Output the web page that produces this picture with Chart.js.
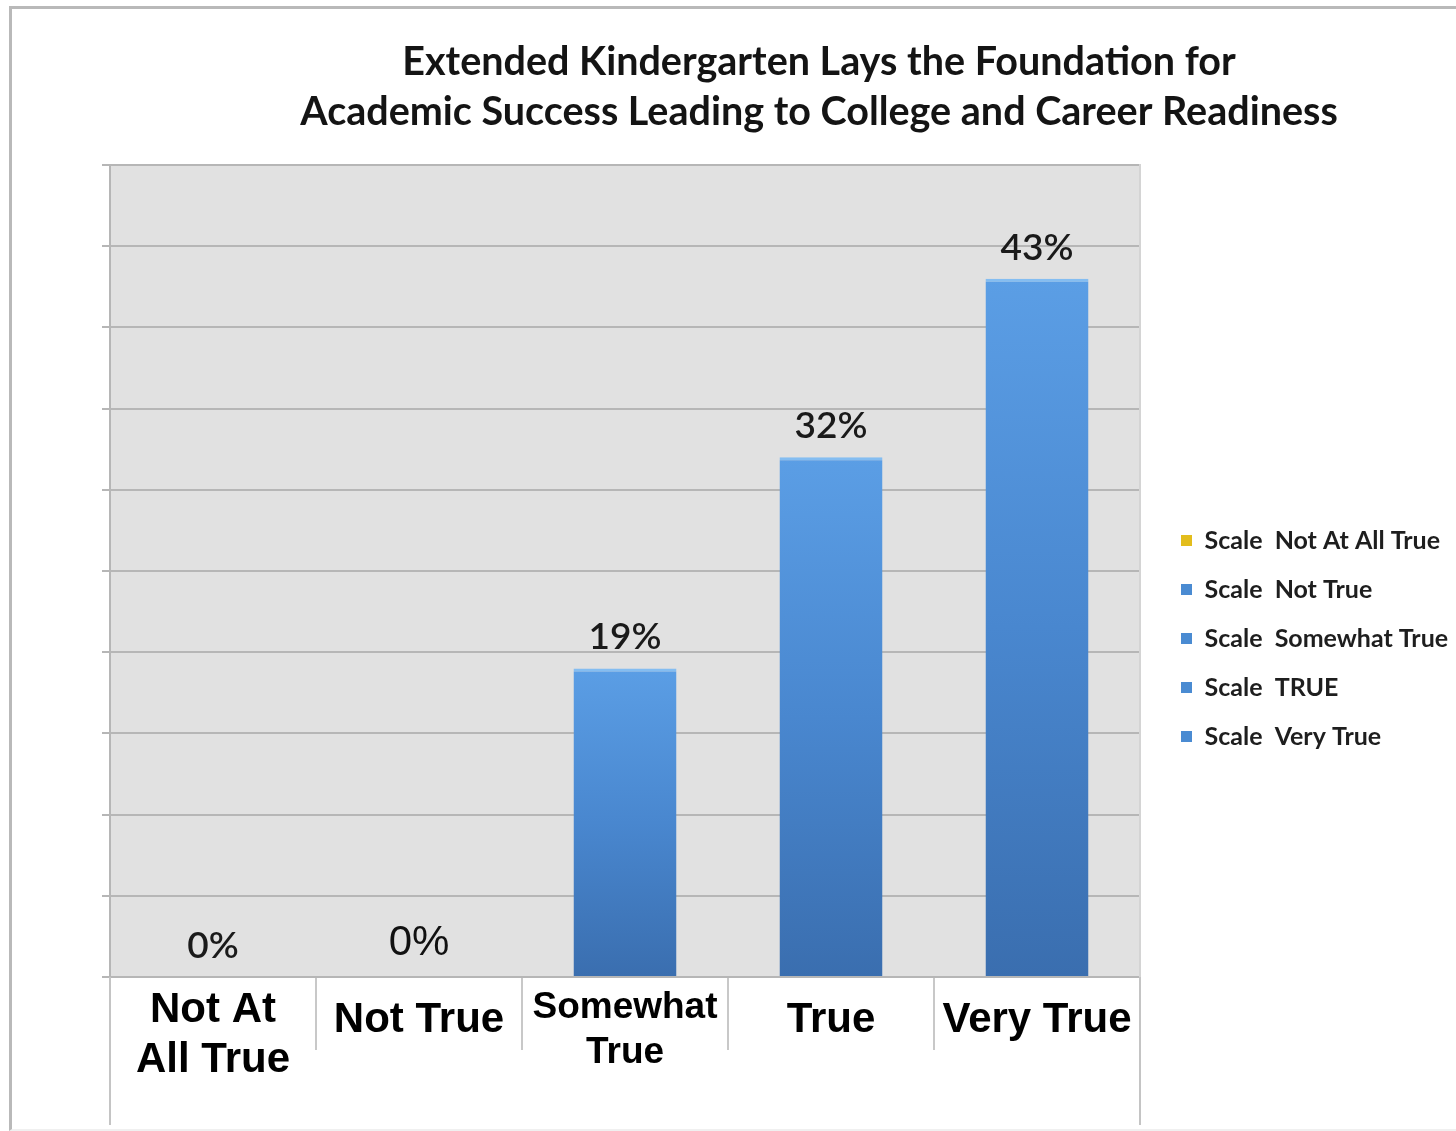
<!DOCTYPE html>
<html>
<head>
<meta charset="utf-8">
<title>Extended Kindergarten survey</title>
<script src="https://cdn.jsdelivr.net/npm/chart.js@4/dist/chart.umd.min.js"></script>
<style>
  html, body { margin: 0; padding: 0; background: #ffffff; overflow: hidden; width: 1456px; height: 1131px; }
  #wrap { position: absolute; left: 0; top: 0; width: 1536px; height: 1131px; }
  #frame {
    position: absolute; left: 9px; top: 6px; width: 1600px; height: 1120px;
    border-left: 3px solid #b9b9b9; border-top: 3px solid #b9b9b9; border-bottom: 2px solid #f0f0f0;
    pointer-events: none;
  }
</style>
</head>
<body>
<div id="wrap"><canvas id="chart"></canvas></div>
<div id="frame"></div>
<script>
// Survey responses: share of answers per scale point
const categories = [['Not At', 'All True'], 'Not True', ['Somewhat', 'True'], 'True', 'Very True'];
const legendLabels = ['Scale  Not At All True', 'Scale  Not True', 'Scale  Somewhat True', 'Scale  TRUE', 'Scale  Very True'];
const percentValues = [0, 0, 19, 32, 43];
const yTicks = { min: 0, max: 50, step: 5 };
const titleLines = [
  'Extended Kindergarten Lays the Foundation for',
  'Academic Success Leading to College and Career Readiness'
];

// Styling
const legendColors = ['#e3bd1c', '#4a8bd2', '#4a8bd2', '#4a8bd2', '#4a8bd2'];
const gridColor = '#b6b6b6';
const plotFill = '#e1e1e1';
const legendFont = { family: 'Lato, "Open Sans", sans-serif', weight: 'bold', size: 25 };
const legendPad = 24;
const legendBox = 11;
const rightBlock = 396;   // width kept right of the plot for the gap, legend and spacer
const frameGap = 17;

// Grey plot background behind the grid
const plotBackground = {
  id: 'plotBackground',
  beforeDraw(chart) {
    const { ctx, chartArea: a } = chart;
    ctx.save();
    ctx.fillStyle = plotFill;
    ctx.fillRect(a.left, a.top, a.right - a.left, a.bottom - a.top);
    ctx.restore();
  }
};

// Outer edges of the category table below the plot
const tableEdges = {
  id: 'tableEdges',
  afterDraw(chart) {
    const { ctx, chartArea: a } = chart;
    ctx.save();
    ctx.strokeStyle = '#c4c4c4';
    ctx.lineWidth = 2;
    ctx.beginPath();
    ctx.moveTo(a.left, a.bottom);
    ctx.lineTo(a.left, chart.height - 6);
    ctx.moveTo(a.right, a.bottom);
    ctx.lineTo(a.right, chart.height - 6);
    ctx.stroke();
    ctx.restore();
  }
};

// Percentage labels above each bar
const valueLabels = {
  id: 'valueLabels',
  afterDatasetsDraw(chart) {
    const { ctx } = chart;
    const meta = chart.getDatasetMeta(0);
    ctx.save();
    ctx.textAlign = 'center';
    ctx.textBaseline = 'alphabetic';
    meta.data.forEach((bar, i) => {
      const v = chart.data.datasets[0].data[i];
      if (i === 1) {
        ctx.font = '42px "Liberation Sans", Arial, sans-serif';
        ctx.fillStyle = '#111111';
        ctx.fillText(v + '%', bar.x, bar.y - 22);
      } else {
        ctx.font = '600 37px Lato, "Open Sans", sans-serif';
        ctx.fillStyle = '#1a1a1a';
        ctx.fillText(v + '%', bar.x, bar.y - 19);
      }
    });
    ctx.restore();
  }
};

function barFill(c) {
  const chart = c.chart;
  const area = chart.chartArea;
  if (!area || !chart.scales.y) return '#4a8bd2';
  const top = chart.scales.y.getPixelForValue(c.raw);
  if (area.bottom - top < 2) return '#4a8bd2';
  const g = chart.ctx.createLinearGradient(0, top, 0, area.bottom);
  g.addColorStop(0, '#5b9ee5');
  g.addColorStop(0.5, '#4987cf');
  g.addColorStop(1, '#3a6eaf');
  return g;
}

const tickFonts = [
  { size: 42, lineHeight: 1.19 },
  { size: 42, lineHeight: 1.667 },
  { size: 37, lineHeight: 1.216 },
  { size: 42, lineHeight: 1.667 },
  { size: 42, lineHeight: 1.667 }
];

function legendWidth(ctx) {
  ctx.save();
  ctx.font = `${legendFont.weight} ${legendFont.size}px ${legendFont.family}`;
  const textW = Math.max(...legendLabels.map(t => ctx.measureText(t).width));
  ctx.restore();
  return legendPad + legendBox + legendFont.size / 2 + textW + 10;
}

new Chart(document.getElementById('chart'), {
  type: 'bar',
  data: {
    labels: categories,
    datasets: [{
      data: percentValues,
      backgroundColor: barFill,
      borderColor: '#84bdf1',
      borderWidth: { top: 3, left: 0, right: 0, bottom: 0 },
      borderSkipped: 'bottom',
      categoryPercentage: 1,
      barPercentage: 0.5
    }]
  },
  options: {
    responsive: true,
    maintainAspectRatio: false,
    animation: false,
    events: [],
    layout: { padding: { left: 102, right: 0, top: 0, bottom: 0 } },
    plugins: {
      title: {
        display: true,
        text: titleLines,
        color: '#141414',
        font: { family: 'Lato, "Open Sans", sans-serif', weight: 'bold', size: 39.5, lineHeight: 1.266 },
        padding: { top: 37, bottom: 28 }
      },
      legend: {
        position: 'right',
        align: 'center',
        maxWidth: 420,
        // empty title block pushes the entries below the chart title
        title: { display: true, text: '', font: { size: 10, lineHeight: 1 }, padding: { top: 68, bottom: 68 } },
        labels: {
          boxWidth: legendBox,
          boxHeight: legendBox,
          padding: legendPad,
          color: '#1e1e1e',
          font: legendFont,
          generateLabels: () => legendLabels.map((t, i) => ({
            text: t,
            fillStyle: legendColors[i],
            strokeStyle: legendColors[i],
            fontColor: '#1e1e1e',
            lineWidth: 0,
            hidden: false,
            index: i,
            datasetIndex: 0
          }))
        }
      },
      tooltip: { enabled: false }
    },
    scales: {
      x: {
        offset: true,
        grid: {
          display: true,
          offset: true,
          drawOnChartArea: false,
          drawTicks: true,
          tickLength: 73,
          color: '#c8c8c8',
          lineWidth: 2
        },
        border: { display: true, color: gridColor, width: 2 },
        ticks: {
          color: '#000000',
          padding: -65,
          maxRotation: 0,
          autoSkip: false,
          crossAlign: 'near',
          font: (c) => Object.assign({ family: '"Liberation Sans", Arial, sans-serif', weight: 'bold' }, tickFonts[c.index] || tickFonts[0])
        },
        afterFit: (s) => { s.height = 154; }
      },
      y: {
        min: yTicks.min,
        max: yTicks.max,
        ticks: { display: false, stepSize: yTicks.step },
        grid: { color: gridColor, lineWidth: 2, drawTicks: true, tickLength: 8 },
        border: { display: true, color: gridColor, width: 2 }
      },
      // plot frame on the right, with the gap before the legend
      yFrame: {
        position: 'right',
        weight: 0,
        min: 0, max: 1,
        ticks: { display: false },
        grid: { display: true, drawOnChartArea: false, drawTicks: true, tickLength: frameGap, tickColor: 'rgba(0,0,0,0)' },
        border: { display: true, color: '#d4d4d4', width: 2 }
      },
      // empty strip outside the legend so the title centres over plot + legend
      ySpacer: {
        position: 'right',
        weight: 2000,
        min: 0, max: 1,
        ticks: { display: false },
        grid: { display: false },
        border: { display: false },
        afterFit: (s) => { s.width = Math.max(0, rightBlock - frameGap - legendWidth(s.ctx)); }
      }
    }
  },
  plugins: [plotBackground, valueLabels, tableEdges]
});
</script>
</body>
</html>
